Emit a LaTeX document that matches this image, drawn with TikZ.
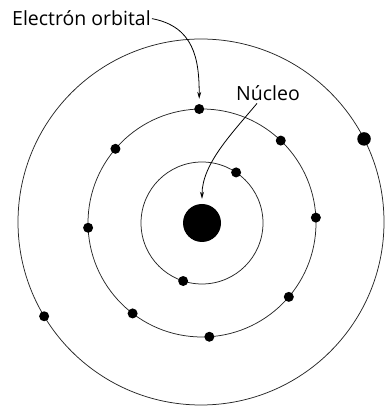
\documentclass[tikz,border=0pt]{standalone}
\usepackage{fontspec}
\setmainfont{Open Sans}
\usetikzlibrary{arrows.meta, positioning}

\begin{document}
\begin{tikzpicture}[
    x=1pt, y=1pt,
    orbit/.style={draw=black!85, line width=0.75pt},
    electron/.style={circle, fill=black, inner sep=0pt, minimum size=10pt},
    bigelectron/.style={circle, fill=black, inner sep=0pt, minimum size=13.5pt},
    nucleus/.style={circle, fill=black, inner sep=0pt, minimum size=38pt},
    tag/.style={font=\fontsize{19.5}{23}\selectfont, inner sep=0pt},
    arr/.style={-{Stealth[length=7pt, width=4pt]}, line width=0.8pt, shorten >=5pt},
]
\useasboundingbox (0,0) rectangle (385,406);

% Nucleus and orbits
\coordinate (c) at (202,183);
\coordinate (co) at (201,184);
\node[nucleus] (nuc) at (c) {};
\draw[orbit] (c) circle[radius=61pt];
\draw[orbit] (c) circle[radius=114pt];
\draw[orbit] (co) circle[radius=183pt];

% Electrons
\foreach \a/\n in {56/i1, 252/i2}
    \node[electron] (\n) at ([shift={(\a:61pt)}]c) {};
\foreach \a/\n in {91.4/m1, 46.3/m2, 139.4/m3, 2.7/m4, 182.4/m5, 319.6/m6, 232.5/m7, 273.7/m8}
    \node[electron] (\n) at ([shift={(\a:114pt)}]c) {};
\node[bigelectron] (o1) at ([shift={(27:183pt)}]co) {};
\node[electron] (o2) at ([shift={(211:183pt)}]co) {};

% Labels
\node[tag, anchor=base west] (elab) at (12,380) {Electrón orbital};
\node[tag, anchor=base west] (nlab) at (236,305) {Núcleo};

\draw[arr] ([xshift=1pt]elab.east) .. controls +(42,-8) and +(0,45) .. (m1.north);
\draw[arr] ([xshift=21pt, yshift=-2pt]nlab.south west) .. controls +(-25,-30) and +(0,40) .. (nuc.north);

\end{tikzpicture}
\end{document}
